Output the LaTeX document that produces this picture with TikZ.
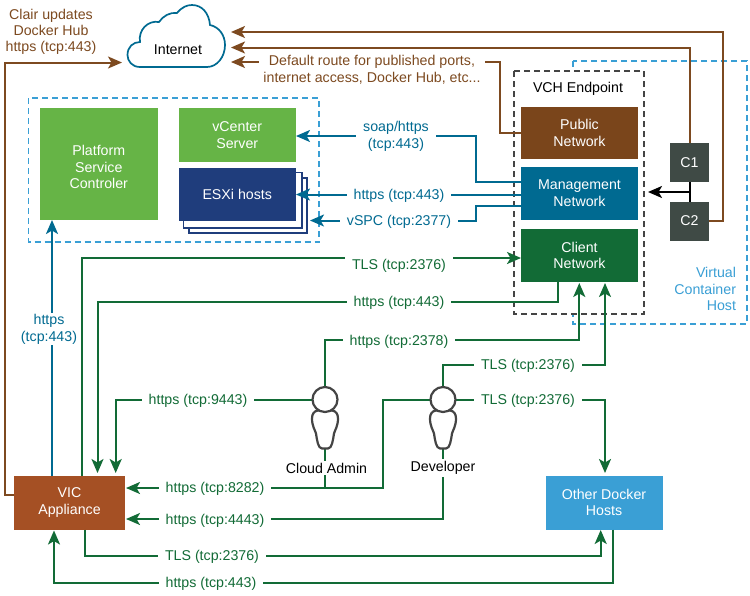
\documentclass[tikz,border=0pt]{standalone}
\usepackage{fontspec}
\setmainfont{Liberation Sans}
\usetikzlibrary{arrows.meta}
\definecolor{cbrown}{HTML}{7D4A20}
\definecolor{cblue}{HTML}{006A91}
\definecolor{cgreen}{HTML}{126B36}
\definecolor{clight}{HTML}{3A9FD5}
\definecolor{cleaf}{HTML}{66B446}
\definecolor{cnavy}{HTML}{1F3D7C}
\definecolor{cgrey}{HTML}{3F4A45}
\definecolor{crust}{HTML}{A55024}
\definecolor{cpub}{HTML}{7A451B}
\definecolor{cperson}{HTML}{444444}
\tikzset{
  base/.style={font=\fontsize{14.2}{16.8}\selectfont,align=center,inner sep=0pt,outer sep=0pt},
  box/.style={base,text=white,minimum width=#1},
  lab/.style={base,fill=white,inner xsep=7pt,inner ysep=1pt},
  plainlab/.style={base},
  conn/.style={line width=2pt},
  arr/.style={conn,-{Stealth[length=14pt,width=12pt,inset=3.5pt]}},
  dashbox/.style={line width=1.1pt,dash pattern=on 6pt off 4pt},
  personbody/.style={draw=cperson,line width=2.2pt,fill=white},
  personhead/.style={circle,draw=cperson,line width=2.2pt,fill=white,minimum size=25pt,inner sep=0pt,outer sep=1pt},
  stackback/.style={draw=cnavy,line width=1.2pt,fill=white},
}
\begin{document}
\begin{tikzpicture}[x=1pt,y=-1pt]
\useasboundingbox[fill=white] (0,0) rectangle (750,595);

% dashed groups
\draw[dashbox,draw=clight] (28.5,98) rectangle (319,242);
\draw[dashbox,draw=clight] (573,61) rectangle (747,324);
\draw[dashbox,draw=cperson,fill=white] (514,71) rectangle (644,314);

% stacked hosts behind the ESXi box
\draw[stackback] (189,178) rectangle (307,233);
\draw[stackback] (183.5,172.5) rectangle (302,228);

% boxes
\node[box=117.5pt,fill=cleaf,minimum height=112pt] (psc) at (98.75,164) {};
\node[base,text=white] (psctext) at (98.75,167) {Platform\\Service\\Controler};
\node[box=117.5pt,fill=cleaf,minimum height=54pt] (vcenter) at (237.25,135) {vCenter\\Server};
\node[box=117.5pt,fill=cnavy,minimum height=53pt] (esxi) at (237.25,194.5) {ESXi hosts};
\node[box=117pt,fill=cpub,minimum height=51.5pt] (public) at (579.5,132.75) {Public\\Network};
\node[box=117pt,fill=cblue,minimum height=53pt] (mgmt) at (579.5,193.5) {Management\\Network};
\node[box=117pt,fill=cgreen,minimum height=53pt] (client) at (579.5,255.5) {Client\\Network};
\node[box=39pt,fill=cgrey,minimum height=39pt] (c1) at (689.5,162.5) {C1};
\node[box=39pt,fill=cgrey,minimum height=39pt] (c2) at (689.5,221) {C2};
\node[box=111pt,fill=crust,minimum height=54pt] (vic) at (69.5,502.5) {VIC\\Appliance};
\node[box=117pt,fill=clight,minimum height=54pt] (other) at (604,502.5) {Other Docker\\Hosts};

% free ends and bends
\coordinate (inetA) at (231,32);
\coordinate (inetB) at (231,47.5);
\coordinate (inetC) at (231,62);
\coordinate (inetD) at (122,62.5);
\coordinate (adminHead) at (325,399.5);
\coordinate (devHead) at (443,399.5);
\coordinate (adminFoot) at (325,449);
\coordinate (devFoot) at (443,449);
\coordinate (junction) at (325,488);

% brown connectors
\draw[arr,draw=cbrown] (c2.east) -- (723,221) -- (723,32) -- (inetA);
\draw[arr,draw=cbrown] (c1.north) -- (c1.north |- inetB) -- (inetB);
\draw[arr,draw=cbrown] (public.west) -- (499.5,132.75) -- (499.5,62) -- (inetC);
\draw[arr,draw=cbrown] (vic.west |- 0,494.5) -- (5,494.5) -- (5,62.5) -- (inetD);

% blue connectors
\draw[arr,draw=cblue] (mgmt.west |- 0,182) -- (476,182) -- (476,136) -- (vcenter.east |- 0,136);
\draw[arr,draw=cblue] (mgmt.west |- 0,194.5) -- (esxi.east |- 0,194.5);
\draw[arr,draw=cblue] (mgmt.west |- 0,206) -- (476,206) -- (476,220.5) -- (310,220.5);
\draw[arr,draw=cblue] (vic.north -| 52,0) -- (psc.south -| 52,0);

% green connectors
\draw[arr,draw=cgreen] (vic.north -| 82,0) -- (82,258) -- (client.west |- 0,258);
\draw[arr,draw=cgreen] (client.south -| 558,0) -- (558,301.5) -- (97.5,301.5) -- (97.5,473);
\draw[arr,draw=cgreen] (adminHead) -- (325,340) -- (579.3,340) -- (579.3,283);
\draw[arr,draw=cgreen] (devHead) -- (443,365) -- (605,365) -- (605,283);
\draw[arr,draw=cgreen] (adminHead) -- (115.7,399.5) -- (115.7,473);
\draw[arr,draw=cgreen] (devHead) -- (605,399.5) -- (605,473);
\draw[arr,draw=cgreen] (devHead) -- (383,399.5) -- (383,488) -- (126,488);
\draw[conn,draw=cgreen] (adminFoot) -- (junction);
\draw[arr,draw=cgreen] (devFoot) -- (443,519) -- (126,519);
\draw[arr,draw=cgreen] (vic.south -| 85,0) -- (85,556) -- (600.7,556) -- (600.7,530);
\draw[arr,draw=cgreen] (other.south -| 613,0) -- (613,583) -- (54,583) -- (54,530.5);

% container links
\draw[conn,black] (c1.south) -- (c2.north);
\draw[arr,draw=black] (689.5,192) -- (648,192);

% cloud
\draw[draw=cblue,line width=1.7pt,fill=white]
  (140,67) .. controls (132,67) and (127.5,61) .. (127.5,55)
  .. controls (127.5,47) and (133,42) .. (140,42)
  .. controls (138,30) and (148,20) .. (159,22)
  .. controls (163,16) and (170,12) .. (177,13)
  .. controls (182,7) and (187,5) .. (192,5)
  .. controls (202,5) and (209,13) .. (210,25)
  .. controls (219,27) and (225,35) .. (225,45)
  .. controls (225,57) and (217,67) .. (207,67) -- cycle;
\node[plainlab] (internet) at (178,50) {Internet};

% people
\draw[personbody] (312,418.5) .. controls (312,414) and (314,411) .. (318,410.5) -- (332,410.5)
  .. controls (336,411) and (338,414) .. (338,418.5)
  .. controls (338,426) and (335,430) .. (334,433.5)
  .. controls (333,440) and (332,448.5) .. (328,448.5) -- (322,448.5)
  .. controls (318,448.5) and (317,440) .. (316,433.5)
  .. controls (315,430) and (312,426) .. (312,418.5) -- cycle;
\node[personhead] (admin) at (adminHead) {};
\draw[personbody] (430,418.5) .. controls (430,414) and (432,411) .. (436,410.5) -- (450,410.5)
  .. controls (454,411) and (456,414) .. (456,418.5)
  .. controls (456,426) and (453,430) .. (452,433.5)
  .. controls (451,440) and (450,448.5) .. (446,448.5) -- (440,448.5)
  .. controls (436,448.5) and (435,440) .. (434,433.5)
  .. controls (433,430) and (430,426) .. (430,418.5) -- cycle;
\node[personhead] (dev) at (devHead) {};

% brown labels
\node[plainlab,text=cbrown,font=\fontsize{14.2}{16}\selectfont] (clair) at (51,32) {Clair updates\\Docker Hub\\https (tcp:443)};
\node[lab,text=cbrown,inner xsep=4pt] (route) at (372,70) {Default route for published ports,\\internet access, Docker Hub, etc...};

% blue labels
\node[lab,text=cblue] (soap) at (396,136) {soap/https\\(tcp:443)};
\node[lab,text=cblue] (https1) at (399,195.5) {https (tcp:443)};
\node[lab,text=cblue] (vspc) at (399,221.5) {vSPC (tcp:2377)};
\node[lab,text=cblue,inner xsep=2pt] (https2) at (49,329) {https\\(tcp:443)};

% green labels
\node[lab,text=cgreen,inner ysep=4pt] (tls1) at (399,265.5) {TLS (tcp:2376)};
\node[lab,text=cgreen] (https3) at (399,302.5) {https (tcp:443)};
\node[lab,text=cgreen] (https4) at (399,341.5) {https (tcp:2378)};
\node[lab,text=cgreen] (tls2) at (528,365.5) {TLS (tcp:2376)};
\node[lab,text=cgreen] (https5) at (198,401) {https (tcp:9443)};
\node[lab,text=cgreen] (tls3) at (528,401) {TLS (tcp:2376)};
\node[lab,text=cgreen] (https6) at (215,488.5) {https (tcp:8282)};
\node[lab,text=cgreen] (https7) at (215,520.5) {https (tcp:4443)};
\node[lab,text=cgreen] (tls4) at (212,556.5) {TLS (tcp:2376)};
\node[lab,text=cgreen] (https8) at (211,583.5) {https (tcp:443)};

% black and light labels
\node[lab,inner xsep=2pt,inner ysep=2pt] (adminlab) at (326.5,468) {Cloud Admin};
\node[lab,inner xsep=2pt,inner ysep=2pt] (devlab) at (443,468) {Developer};
\node[plainlab] (vchlab) at (578,88.5) {VCH Endpoint};
\node[plainlab,text=clight,align=right,anchor=east] (vchost) at (736,289) {Virtual\\Container\\Host};
\end{tikzpicture}
\end{document}
